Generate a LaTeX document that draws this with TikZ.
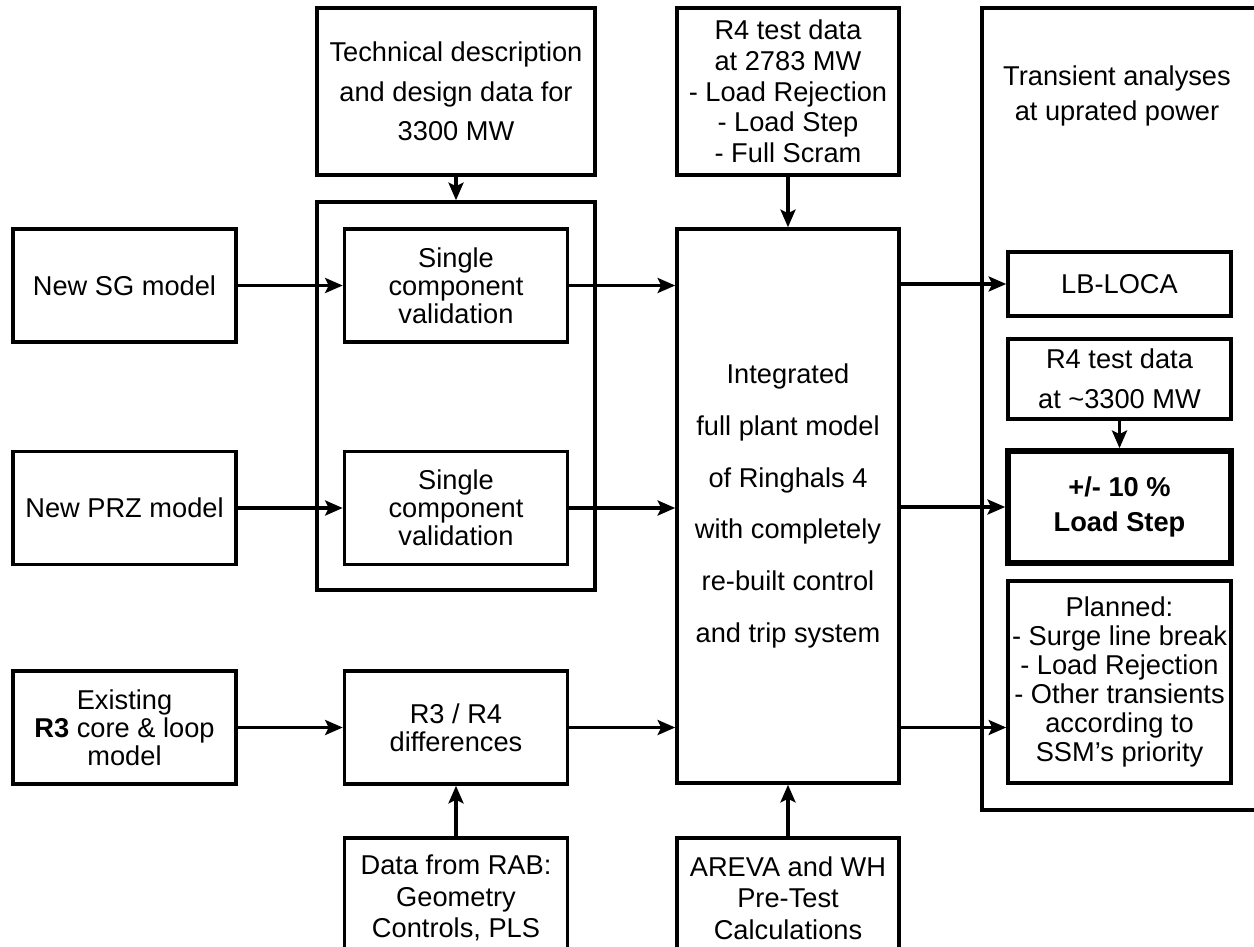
\documentclass[tikz,border=0pt]{standalone}
\usepackage{fontspec}
\setmainfont{Liberation Sans}
\usetikzlibrary{arrows.meta}

\begin{document}
\begin{tikzpicture}[->,>={Stealth[length=10pt,width=8.5pt,inset=2pt]},auto,node distance=6.63cm,
  line width=2pt,
  main node/.style={rectangle,draw,minimum width=4.46cm,minimum height=2.26cm,align=center,
    inner sep=2pt,font=\fontsize{15.5}{16}\selectfont},
  tall node/.style={main node,minimum width=4.44cm,minimum height=3.34cm}]

  \clip (0,0) rectangle (25.08,-18.94);

  % left column and validation group
  \node[main node] (1) at (2.49,-5.71) {New SG model};
  \node[main node] (2) [below of=1, node distance=4.45cm] {New PRZ model};
  \node[main node] (3) [below of=2, node distance=4.39cm] {Existing\\\textbf{R3} core \& loop\\model};
  \node[draw,-,minimum width=5.56cm,minimum height=7.76cm] (4) at (9.12,-7.92) {};
  \node[main node] (5) [right of=1] {Single\\component\\validation};
  \node[main node] (6) [right of=2] {Single\\component\\validation};
  \node[main node] (7) [right of=3] {R3 / R4\\differences};
  \node[tall node,minimum width=5.56cm,font=\fontsize{15.5}{22.5}\selectfont] (8) at (9.12,-1.83)
    {Technical description\\and design data for\\3300 MW};
  \node[main node,minimum height=2.4cm,font=\fontsize{15.5}{18}\selectfont] (9) at (9.12,-17.96)
    {Data from RAB:\\Geometry\\Controls, PLS};

  % plant model column
  \node[main node,minimum width=4.44cm,minimum height=11.08cm,font=\fontsize{15.5}{29.5}\selectfont] (10) at (15.76,-10.12)
    {Integrated\\full plant model\\of Ringhals 4\\with completely\\re-built control\\and trip system};
  \node[tall node,font=\fontsize{15.5}{17.5}\selectfont] (11) at (15.76,-1.83)
    {R4 test data\\at 2783 MW\\- Load Rejection\\- Load Step\\- Full Scram};
  \node[main node,minimum width=4.44cm,minimum height=2.4cm,font=\fontsize{15.5}{18}\selectfont] (12) at (15.76,-17.96)
    {AREVA and WH\\Pre-Test\\Calculations};

  % transient analyses (frame runs off the right edge)
  \draw[-] (26,-0.16) -| (19.64,-16.2) -- (26,-16.2);
  \node[font=\fontsize{15.5}{20}\selectfont,align=center] (14) at (22.34,-1.92)
    {Transient analyses\\at uprated power};
  \node[main node,minimum height=1.28cm] (15) at (22.39,-5.68) {LB-LOCA};
  \node[main node,minimum height=1.6cm,font=\fontsize{15.5}{22.5}\selectfont] (16) at (22.39,-7.58)
    {R4 test data\\at \textasciitilde3300 MW};
  \node[main node,minimum height=2.24cm,line width=3.2pt,font=\fontsize{15.5}{20}\selectfont\bfseries] (17) at (22.39,-10.14)
    {+/- 10 \%\\Load Step};
  \node[main node,minimum height=4.04cm,inner xsep=0.5pt,font=\fontsize{15.5}{16.5}\selectfont] (18) at (22.39,-13.64)
    {Planned:\\- Surge line break\\- Load Rejection\\- Other transients\\according to\\SSM's priority};

  \path
    (1) edge (5)
    (2) edge (6)
    (3) edge (7)
    (5) edge (5 -| 10.west)
    (6) edge (6 -| 10.west)
    (7) edge (7 -| 10.west)
    (8) edge (4)
    (9) edge (7)
    (11) edge (10)
    (12) edge (10)
    (16) edge (17)
    (15 -| 10.east) edge (15)
    (17 -| 10.east) edge (17)
    (7 -| 10.east) edge (7 -| 18.west);
\end{tikzpicture}
\end{document}
